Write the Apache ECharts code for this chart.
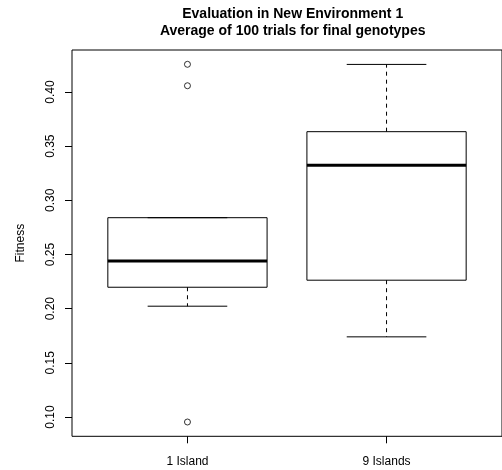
<!DOCTYPE html>
<html><head><meta charset="utf-8">
<script src="https://cdn.jsdelivr.net/npm/echarts@6/dist/echarts.min.js"></script>
<style>html,body{margin:0;padding:0;background:#fff}#c{width:502px;height:470px}</style>
</head><body><div id="c"></div>
<script>
const categories = ['1 Island', '9 Islands'];
const positions = [1, 2];
const lowerWhisker = [0.2023, 0.1740];
const q1 = [0.2198, 0.2263];
const median = [0.2441, 0.3324];
const q3 = [0.2840, 0.3634];
const upperWhisker = [0.2840, 0.4255];
const outlierX = [1, 1, 1];
const outlierY = [0.4256, 0.4058, 0.0954];
const yTicks = [0.10, 0.15, 0.20, 0.25, 0.30, 0.35, 0.40];

const boxData = positions.map((p, i) => [p, lowerWhisker[i], q1[i], median[i], q3[i], upperWhisker[i]]);
const outData = outlierX.map((x, i) => [x, outlierY[i]]);
const FONT = 'Liberation Sans';

const chart = echarts.init(document.getElementById('c'), null, {renderer: 'canvas'});
chart.setOption({
  animation: false,
  backgroundColor: '#fff',
  title: {
    text: 'Evaluation in New Environment 1\nAverage of 100 trials for final genotypes',
    left: 287.7, top: 1, textAlign: 'center',
    textStyle: {fontFamily: FONT, fontSize: 14, fontWeight: 'bold', color: '#000', lineHeight: 17}
  },
  grid: {left: 72, top: 50, width: 431.5, height: 386.3, show: true, borderColor: '#000', borderWidth: 1, backgroundColor: 'transparent'},
  xAxis: {
    type: 'value', min: 0.42, max: 2.58,
    splitLine: {show: false}, axisLine: {show: false},
    axisTick: {show: true, inside: false, length: 7, customValues: positions, lineStyle: {color: '#000'}},
    axisLabel: {customValues: positions, margin: 19, fontFamily: FONT, fontSize: 12, color: '#000',
      formatter: v => categories[positions.indexOf(Math.round(v))] || ''}
  },
  yAxis: {
    type: 'value', min: 0.0822, max: 0.4388,
    name: 'Fitness', nameLocation: 'middle', nameRotate: 90, nameGap: 45,
    nameTextStyle: {fontFamily: FONT, fontSize: 12, color: '#000'},
    splitLine: {show: false}, axisLine: {show: false},
    axisTick: {show: true, inside: false, length: 7, customValues: yTicks, lineStyle: {color: '#000'}},
    axisLabel: {customValues: yTicks, rotate: 90, margin: 15, fontFamily: FONT, fontSize: 12, color: '#000',
      formatter: v => v.toFixed(2)}
  },
  series: [
    {
      type: 'custom',
      data: boxData,
      renderItem: function (params, api) {
        const x = api.value(0);
        const lw = api.value(1), b1 = api.value(2), md = api.value(3), b3 = api.value(4), uw = api.value(5);
        const L = api.coord([x - 0.4, md])[0], R = api.coord([x + 0.4, md])[0];
        const cl = api.coord([x - 0.2, md])[0], cr = api.coord([x + 0.2, md])[0];
        const cx = api.coord([x, md])[0];
        const yl = api.coord([x, lw])[1], y1 = api.coord([x, b1])[1], ym = api.coord([x, md])[1];
        const y3 = api.coord([x, b3])[1], yu = api.coord([x, uw])[1];
        const black = {stroke: '#000', lineWidth: 1, fill: null};
        const dash = {stroke: '#000', lineWidth: 1, lineDash: [4, 4]};
        const children = [];
        if (yu < y3 - 0.5) children.push({type: 'line', shape: {x1: cx, y1: y3, x2: cx, y2: yu}, style: dash});
        if (yl > y1 + 0.5) children.push({type: 'line', shape: {x1: cx, y1: y1, x2: cx, y2: yl}, style: dash});
        children.push({type: 'line', shape: {x1: cl, y1: yu, x2: cr, y2: yu}, style: black});
        children.push({type: 'line', shape: {x1: cl, y1: yl, x2: cr, y2: yl}, style: black});
        children.push({type: 'rect', shape: {x: L, y: y3, width: R - L, height: y1 - y3}, style: {stroke: '#000', lineWidth: 1, fill: 'transparent'}});
        children.push({type: 'line', shape: {x1: L, y1: ym, x2: R, y2: ym}, style: {stroke: '#000', lineWidth: 3}});
        return {type: 'group', children: children};
      }
    },
    {
      type: 'scatter',
      data: outData,
      symbol: 'circle', symbolSize: 6,
      itemStyle: {color: 'transparent', borderColor: '#000', borderWidth: 1}
    }
  ]
});
</script></body></html>
